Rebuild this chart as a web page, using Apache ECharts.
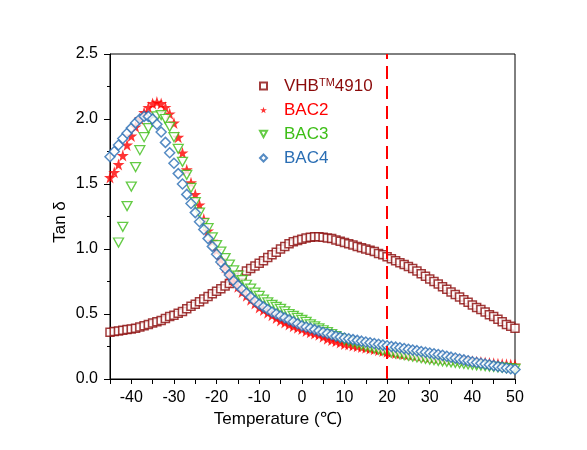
<!DOCTYPE html>
<html>
<head>
<meta charset="utf-8">
<script src="https://cdn.jsdelivr.net/npm/echarts@6/dist/echarts.min.js"></script>
<style>html,body{margin:0;padding:0;background:#fff;}#c{width:587px;height:450px;}</style>
</head>
<body>
<div id="c"></div>
<script>
// Temperature (°C) sample points
const tempsFull = [];
for (let t = -45; t <= 50; t++) tempsFull.push(t);
const tempsBAC3 = [];
for (let t = -43; t <= 50; t++) tempsBAC3.push(t);

const seriesNames = ['VHB4910', 'BAC2', 'BAC3', 'BAC4'];
const xTicks = [-40, -30, -20, -10, 0, 10, 20, 30, 40, 50];
const yTicks = [0.0, 0.5, 1.0, 1.5, 2.0, 2.5];
const markerTemp = [20];

const vhb = [0.36,0.365,0.37,0.375,0.38,0.385,0.39,0.40,0.41,0.42,0.43,0.44,0.45,0.465,0.48,0.49,0.505,0.52,0.54,0.56,0.575,0.595,0.615,0.635,0.655,0.675,0.695,0.715,0.735,0.76,0.78,0.80,0.83,0.85,0.87,0.89,0.91,0.935,0.955,0.975,1.00,1.02,1.04,1.055,1.065,1.075,1.085,1.09,1.095,1.095,1.09,1.085,1.08,1.07,1.06,1.05,1.04,1.03,1.02,1.01,1.00,0.99,0.98,0.965,0.955,0.94,0.925,0.91,0.895,0.88,0.865,0.85,0.83,0.81,0.79,0.77,0.75,0.73,0.71,0.69,0.67,0.65,0.63,0.61,0.59,0.57,0.55,0.535,0.515,0.495,0.48,0.46,0.44,0.42,0.405,0.39];

const bac2 = [1.55,1.59,1.65,1.72,1.80,1.87,1.94,2.00,2.05,2.09,2.12,2.13,2.12,2.09,2.04,1.97,1.86,1.74,1.61,1.51,1.42,1.34,1.23,1.14,1.06,0.99,0.92,0.86,0.80,0.75,0.71,0.67,0.64,0.61,0.58,0.55,0.53,0.51,0.49,0.47,0.45,0.435,0.42,0.405,0.395,0.385,0.37,0.36,0.35,0.34,0.325,0.31,0.30,0.29,0.28,0.27,0.265,0.258,0.252,0.246,0.24,0.234,0.228,0.222,0.216,0.21,0.205,0.20,0.196,0.192,0.188,0.184,0.18,0.176,0.172,0.168,0.164,0.16,0.157,0.154,0.151,0.148,0.145,0.142,0.139,0.136,0.133,0.13,0.127,0.124,0.121,0.118,0.115,0.113,0.111,0.109];

const bac3 = [1.05,1.17,1.33,1.48,1.63,1.76,1.86,1.93,1.98,2.02,2.03,2.00,1.94,1.86,1.77,1.67,1.57,1.47,1.36,1.28,1.20,1.16,1.09,1.03,0.98,0.93,0.88,0.835,0.795,0.76,0.725,0.695,0.665,0.64,0.61,0.59,0.57,0.555,0.54,0.52,0.50,0.485,0.47,0.455,0.44,0.42,0.405,0.39,0.375,0.36,0.345,0.33,0.315,0.30,0.29,0.28,0.27,0.26,0.25,0.242,0.234,0.226,0.218,0.21,0.203,0.196,0.19,0.184,0.178,0.172,0.166,0.16,0.155,0.15,0.145,0.14,0.136,0.132,0.128,0.124,0.12,0.116,0.112,0.108,0.105,0.102,0.099,0.096,0.093,0.09,0.087,0.084,0.081,0.078];

const bac4 = [1.71,1.75,1.80,1.85,1.89,1.93,1.97,2.00,2.02,2.02,2.00,1.96,1.90,1.82,1.74,1.66,1.58,1.50,1.42,1.35,1.28,1.21,1.15,1.08,1.02,0.96,0.90,0.85,0.80,0.755,0.72,0.69,0.66,0.63,0.60,0.575,0.555,0.535,0.515,0.50,0.485,0.47,0.455,0.44,0.425,0.41,0.40,0.39,0.38,0.37,0.36,0.35,0.34,0.33,0.322,0.315,0.309,0.303,0.297,0.291,0.285,0.279,0.273,0.267,0.261,0.256,0.25,0.245,0.24,0.234,0.229,0.223,0.218,0.212,0.206,0.20,0.194,0.188,0.182,0.175,0.168,0.161,0.154,0.147,0.14,0.133,0.127,0.121,0.115,0.109,0.103,0.097,0.091,0.085,0.079,0.073];

const colVHB = '#8B0A0A', colBAC2 = '#FF0000', colBAC3 = '#3DBE17', colBAC4 = '#2A6EB4';
const FONT = 'Liberation Sans, Arial, sans-serif';
const star = 'path://M50,0 L61,35 L98,35 L68,57 L79,91 L50,70 L21,91 L32,57 L2,35 L39,35 Z';
const downTri = 'path://M0,0 L10,0 L5,9 Z';

function pairs(xs, ys) { return xs.map((x, i) => [x, ys[i]]); }

const chart = echarts.init(document.getElementById('c'), null, {renderer: 'canvas'});
chart.setOption({
  animation: false,
  backgroundColor: '#fff',
  grid: {left: 110, right: 72, top: 54, bottom: 71, show: true, borderColor: '#000', borderWidth: 1, backgroundColor: 'transparent'},
  xAxis: {
    type: 'value', min: -45, max: 50, interval: 5,
    axisLine: {show: true, onZero: false, lineStyle: {color: '#000', width: 1}},
    axisTick: {show: true, inside: false, length: 5, lineStyle: {color: '#000'}},
    splitLine: {show: false},
    axisLabel: {
      margin: 11, fontSize: 16, color: '#000', fontFamily: FONT,
      formatter: v => xTicks.indexOf(v) >= 0 ? String(v) : ''
    }
  },
  yAxis: {
    type: 'value', min: 0, max: 2.5, interval: 0.5,
    axisLine: {show: true, onZero: false, lineStyle: {color: '#000', width: 1}},
    axisTick: {show: true, inside: false, length: 6, lineStyle: {color: '#000'}},
    minorTick: {show: true, splitNumber: 2, length: 3, lineStyle: {color: '#000'}},
    splitLine: {show: false},
    axisLabel: {margin: 12, fontSize: 16, color: '#000', fontFamily: FONT,
      formatter: v => yTicks.indexOf(v) >= 0 ? v.toFixed(1) : ''}
  },
  legend: {
    orient: 'vertical', left: 254, top: 72, itemGap: 7,
    itemWidth: 7, itemHeight: 7,
    textStyle: {fontSize: 17, fontFamily: FONT, padding: [0, 0, 0, 12],
      rich: {
        a: {fontSize: 17, fontFamily: FONT, color: colVHB, lineHeight: 18},
        s: {fontSize: 11, fontFamily: FONT, color: colVHB, verticalAlign: 'top', lineHeight: 18}
      }
    },
    formatter: name => name === 'VHB4910' ? '{a|VHB}{s|TM}{a|4910}' : name,
    data: [
      {name: seriesNames[0], textStyle: {color: colVHB}},
      {name: seriesNames[1], textStyle: {color: colBAC2}},
      {name: seriesNames[2], textStyle: {color: colBAC3}},
      {name: seriesNames[3], textStyle: {color: colBAC4}}
    ]
  },
  graphic: [
    {type: 'text', x: 278, y: 419, style: {text: 'Temperature (℃)', fontSize: 17, fontFamily: FONT, fill: '#000', textAlign: 'center', textVerticalAlign: 'middle'}},
    {type: 'text', x: 60, y: 222, rotation: Math.PI / 2, style: {text: 'Tan δ', fontSize: 17, fontFamily: FONT, fill: '#000', textAlign: 'center', textVerticalAlign: 'middle'}}
  ],
  series: [
    {
      name: seriesNames[0], type: 'scatter', data: pairs(tempsFull, vhb),
      symbol: 'rect', symbolSize: 8,
      itemStyle: {color: '#fff', borderColor: colVHB, borderWidth: 1.5},
      markLine: {
        silent: true, symbol: ['none', 'none'], label: {show: false},
        lineStyle: {color: '#FF0000', type: [13, 7], width: 2},
        data: markerTemp.map(t => ({xAxis: t}))
      }
    },
    {
      name: seriesNames[1], type: 'scatter', data: pairs(tempsFull, bac2),
      symbol: star, symbolSize: 12,
      itemStyle: {color: colBAC2}
    },
    {
      name: seriesNames[2], type: 'scatter', data: pairs(tempsBAC3, bac3),
      symbol: downTri, symbolSize: [10, 9],
      itemStyle: {color: '#fff', borderColor: colBAC3, borderWidth: 1.3}
    },
    {
      name: seriesNames[3], type: 'scatter', data: pairs(tempsFull, bac4),
      symbol: 'diamond', symbolSize: 10,
      itemStyle: {color: '#fff', borderColor: colBAC4, borderWidth: 1.5}
    }
  ]
});
</script>
</body>
</html>
